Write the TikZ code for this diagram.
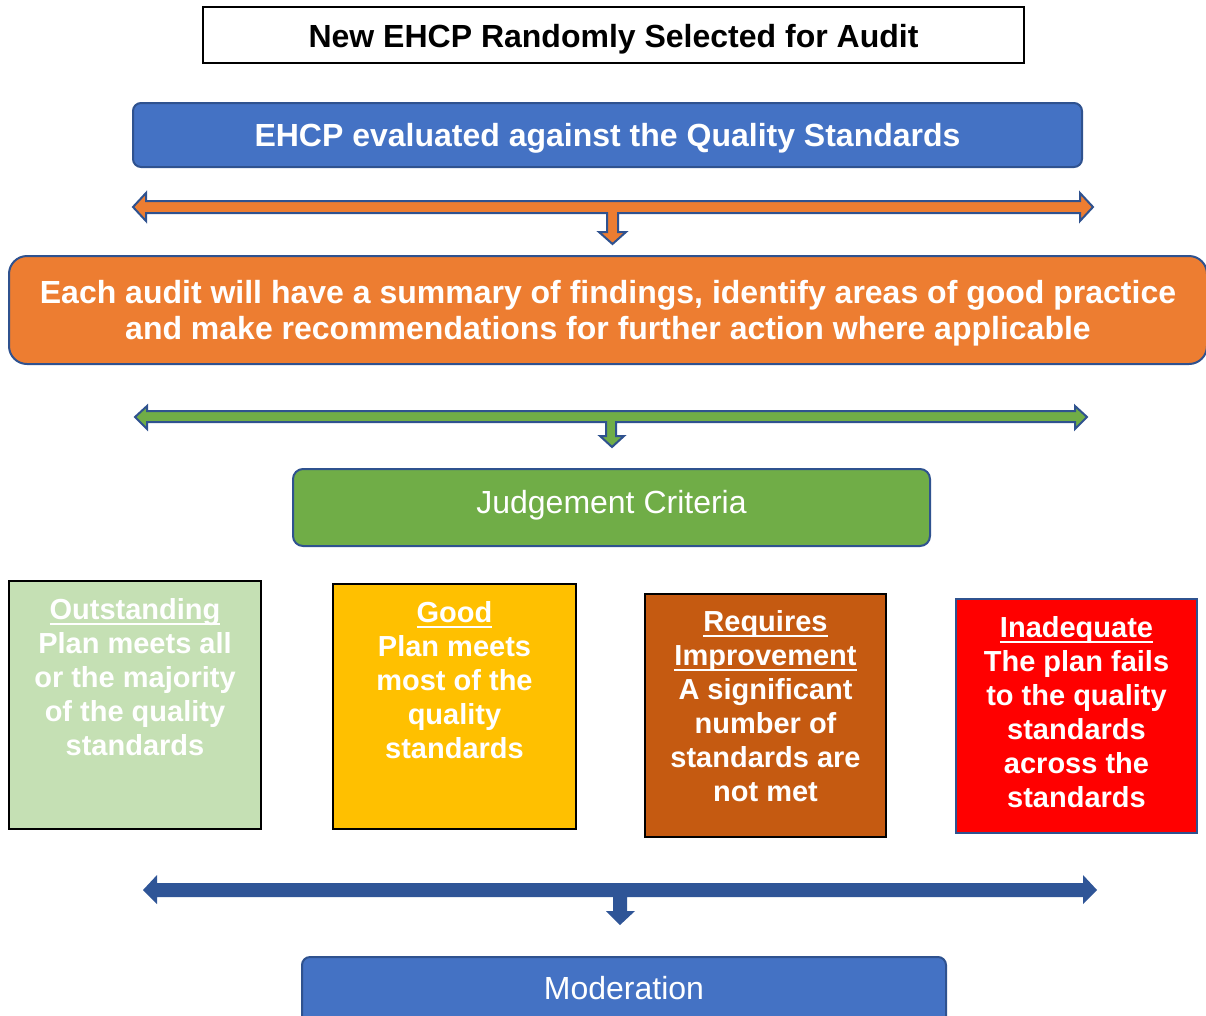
\documentclass[tikz,border=0pt]{standalone}
\usepackage{fontspec}
\setmainfont{Liberation Sans}
\definecolor{eblue}{HTML}{4472C4}
\definecolor{eborder}{HTML}{2F528F}
\definecolor{eorange}{HTML}{ED7D31}
\definecolor{egreen}{HTML}{70AD47}
\definecolor{elight}{HTML}{C5E0B4}
\definecolor{egold}{HTML}{FFC000}
\definecolor{erust}{HTML}{C55A11}
\definecolor{ered}{HTML}{FF0000}
\definecolor{edark}{HTML}{2F5597}
% underlined heading word with a thick rule
\newcommand\ulword[1]{\setbox0\hbox{#1}\rlap{\rule[-5.5pt]{\wd0}{2pt}}\box0}
\begin{document}
\begin{tikzpicture}[x=1pt,y=-1pt,
  banner/.style={draw=eborder, line width=2pt, text=white, inner sep=0pt,
    font=\fontsize{32}{36}\selectfont\bfseries, align=center},
  gradebox/.style={draw=black, line width=2pt, inner sep=0pt},
  gradetext/.style={text=white, inner sep=0pt, align=center, anchor=north,
    font=\fontsize{29}{34}\selectfont\bfseries},
  blockarrow/.style={draw=eborder, line width=2pt, line join=miter}]
\useasboundingbox (0,0) rectangle (1206,1015);

% header
\node[draw=black, line width=1.5pt, fill=white, minimum width=821pt, minimum height=56pt,
  inner sep=0pt, text height=25pt, text depth=0pt,
  font=\fontsize{32}{36}\selectfont\bfseries] (title) at (613.5,35)
  {New EHCP Randomly Selected for Audit};

\node[banner, rounded corners=8pt, fill=eblue, minimum width=949pt, minimum height=64pt,
  text height=23pt, text depth=0pt]
  (eval) at (607.5,135) {EHCP evaluated against the Quality Standards};

% orange split arrow
\filldraw[blockarrow, fill=eorange]
  (133,207) -- (146,193) -- (146,201) -- (1080,201) -- (1080,193) -- (1093,207)
  -- (1080,221) -- (1080,213) -- (618,213) -- (618,232) -- (626,232) -- (612.5,244)
  -- (599,232) -- (607,232) -- (607,213) -- (146,213) -- (146,221) -- cycle;

\node[banner, rounded corners=18pt, fill=eorange, minimum width=1198pt, minimum height=108pt]
  (summary) at (608,310) {};
\node[text=white, inner sep=0pt, align=center, font=\fontsize{32}{36}\selectfont\bfseries]
  (summaryT) at ([yshift=-3pt]summary.center)
  {Each audit will have a summary of findings, identify areas of good practice\\
   and make recommendations for further action where applicable};

% green split arrow
\filldraw[blockarrow, fill=egreen]
  (135,417) -- (147,406) -- (147,411) -- (1075,411) -- (1075,406) -- (1087,417)
  -- (1075,429) -- (1075,422) -- (616,422) -- (616,436) -- (624,436) -- (612,447)
  -- (600,436) -- (606,436) -- (606,422) -- (147,422) -- (147,429) -- cycle;

\node[banner, rounded corners=10pt, fill=egreen, minimum width=637pt, minimum height=77pt,
  text height=12pt, text depth=0pt,
  font=\fontsize{32}{36}\selectfont] (criteria) at (611.5,507.5) {Judgement Criteria};

% grade boxes
\node[gradebox, fill=elight, minimum width=252pt, minimum height=248pt] (b1) at (135,705) {};
\node[gradetext] (t1) at ([yshift=-18pt]b1.north)
  {\ulword{Outstanding}\\Plan meets all\\or the majority\\of the quality\\standards};

\node[gradebox, fill=egold, minimum width=243pt, minimum height=245pt] (b2) at (454.5,706.5) {};
\node[gradetext] (t2) at ([yshift=-18pt]b2.north)
  {\ulword{Good}\\Plan meets\\most of the\\quality\\standards};

\node[gradebox, fill=erust, minimum width=241pt, minimum height=243pt] (b3) at (765.5,715.5) {};
\node[gradetext] (t3) at ([yshift=-17pt]b3.north)
  {\ulword{Requires}\\\ulword{Improvement}\\A significant\\number of\\standards are\\not met};

\node[gradebox, draw=eborder, fill=ered, minimum width=241pt, minimum height=234pt] (b4) at (1076.5,716) {};
\node[gradetext] (t4) at ([yshift=-18pt]b4.north)
  {\ulword{Inadequate}\\The plan fails\\to the quality\\standards\\across the\\standards};

% dark blue split arrow
\fill[edark]
  (143,890) -- (157,875) -- (157,883) -- (1083,883) -- (1083,875) -- (1097,890)
  -- (1083,904) -- (1083,897) -- (627,897) -- (627,911) -- (635,911) -- (620,925)
  -- (606,911) -- (613,911) -- (613,897) -- (157,897) -- (157,904) -- cycle;

\node[banner, rounded corners=8pt, fill=eblue, minimum width=644pt, minimum height=68pt,
  text height=17pt, text depth=0pt,
  font=\fontsize{32}{36}\selectfont] (moderation) at (624,991) {Moderation};
\end{tikzpicture}
\end{document}
